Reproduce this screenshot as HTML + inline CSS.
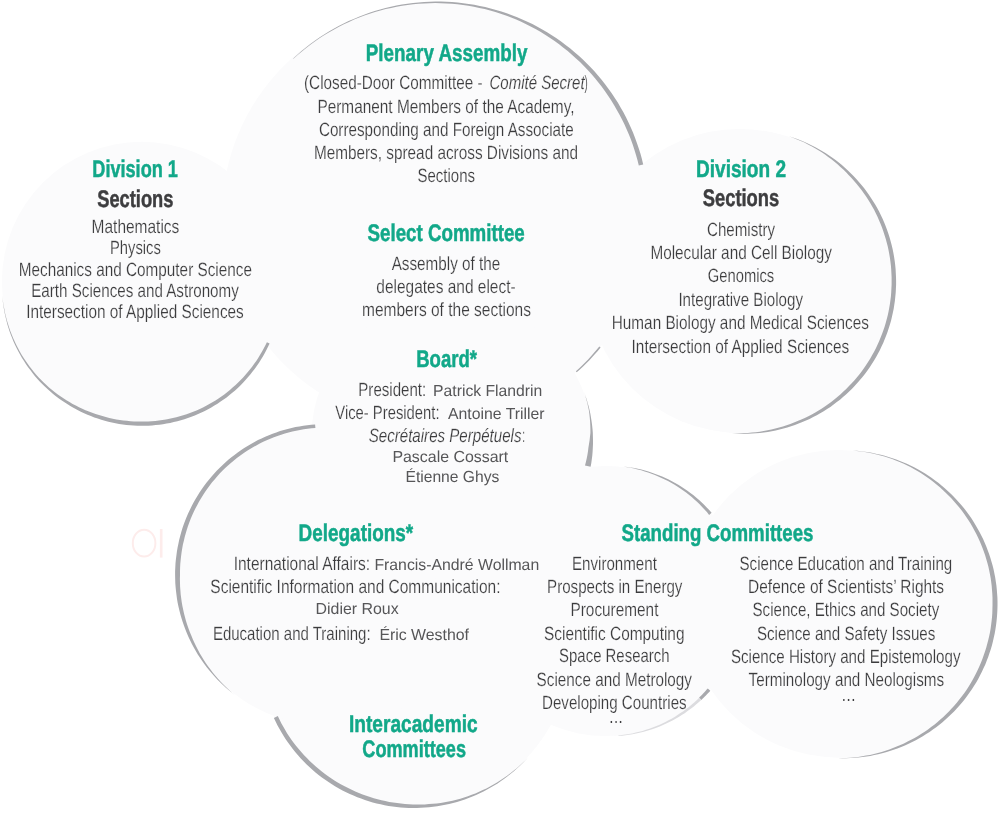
<!DOCTYPE html>
<html lang="en"><head><meta charset="utf-8"><title>Academy organisation</title>
<style>
html,body{margin:0;padding:0;background:#fff}
body{width:1000px;height:831px;overflow:hidden}
svg{display:block}
text{font-family:"Liberation Sans",sans-serif;text-rendering:geometricPrecision}
.title{font-weight:bold;fill:#12a889;stroke:#12a889;stroke-width:0.5px}
.dark{font-weight:bold;fill:#3d3d3f;stroke:#3d3d3f;stroke-width:0.5px}
.body{fill:#3c3c3e;stroke:#fcfcfc;stroke-width:0.18px}
.ital{fill:#3c3c3e;font-style:italic;stroke:#fcfcfc;stroke-width:0.18px}
.name{fill:#565658}
</style></head><body>
<svg width="1000" height="831" viewBox="0 0 1000 831">
<rect width="1000" height="831" fill="#fff"/>
<ellipse cx="144.1" cy="543.2" rx="11.3" ry="13.4" fill="none" stroke="#fdeceb" stroke-width="2"/><rect x="159.9" y="529" width="2.6" height="28.6" fill="#fdeceb"/>
<g id="div1" fill="#fbfbfc"><circle cx="142.0" cy="285.8" r="139.5"/><circle cx="141.6" cy="281.5" r="139.7"/></g>
<g id="inter" fill="#fbfbfc"><circle cx="414.0" cy="654.0" r="153.5"/><circle cx="416.6" cy="650.3" r="153.7"/></g>
<g id="deleg" fill="#fbfbfc"><circle cx="325.9" cy="574.8" r="150.3"/><circle cx="330.8" cy="575.7" r="150.5"/></g>
<g id="plen" fill="#fbfbfc"><circle cx="437.4" cy="213.1" r="211.0"/><circle cx="433.3" cy="215.0" r="211.2"/></g>
<g id="div2" fill="#fbfbfc"><circle cx="743.9" cy="281.6" r="151.7"/><circle cx="739.5" cy="280.8" r="151.9"/></g>
<g id="board" fill="#fbfbfc"><circle cx="453.5" cy="441.0" r="139.0"/><circle cx="450.5" cy="438.0" r="139.2"/></g>
<g id="standL" fill="#fbfbfc"><circle cx="609.0" cy="601.0" r="134.8"/><circle cx="605.0" cy="601.0" r="135.0"/></g>
<g id="standR" fill="#fbfbfc"><circle cx="843.5" cy="604.2" r="153.5"/><circle cx="838.5" cy="603.8" r="153.7"/></g>
<path d="M269.6 343.4 L268.0 346.7 L266.4 350.0 L264.7 353.3 L262.9 356.5 L261.0 359.6 L259.0 362.7 L256.9 365.7 L254.8 368.7 L252.6 371.6 L250.3 374.5 L247.9 377.3 L245.5 380.1 L243.0 382.7 L240.4 385.4 L237.8 387.9 L235.1 390.4 L232.3 392.8 L229.5 395.1 L226.6 397.4 L223.6 399.5 L220.6 401.6 L217.5 403.7 L214.4 405.6 L211.3 407.5 L208.1 409.2 L204.8 410.9 L201.5 412.5 L198.1 414.0 L194.8 415.5 L191.4 416.8 L187.9 418.1 L184.4 419.2 L180.9 420.3 L177.4 421.3 L173.8 422.1 L170.2 422.9 L166.6 423.6 L163.0 424.2 L159.4 424.7 L155.7 425.1 L152.1 425.4 L148.4 425.7 L144.7 425.8 L141.1 425.8 L137.4 425.7 L133.7 425.6 L130.1 425.3 L126.4 424.9 L122.8 424.5 L119.1 423.9 L115.5 423.3 L111.9 422.5 L108.4 421.7 L104.8 420.8 L101.3 419.7 L97.8 418.6 L94.3 417.4 L90.9 416.1 L87.5 414.7 L84.1 413.3 L80.8 411.7 L77.5 410.1 L74.3 408.3 L71.1 406.5 L68.0 404.6 L64.9 402.6 L61.8 400.6 L58.9 398.4 L55.9 396.2 L53.1 393.9 L50.3 391.6 L47.5 389.1 L44.8 386.6 L42.2 384.0 L39.7 381.4 L37.2 378.7 L34.8 375.9 L32.5 373.0 L30.3 370.1 L28.1 367.2 L26.0 364.2 L24.0 361.1 L22.0 358.0 L20.2 354.8 L18.4 351.6 L16.7 348.3 L15.1 345.0 L13.6 341.7 L12.2 338.3 L10.9 334.9 L9.6 331.4 L8.5 327.9 L7.4 324.4 L6.5 320.9 L5.6 317.3 L4.8 313.7 L4.1 310.1 L3.5 306.5 L3.0 302.9 L2.6 299.2 L2.3 295.6 L2.3 295.6 L2.7 299.2 L3.2 302.9 L3.8 306.5 L4.5 310.1 L5.2 313.7 L6.1 317.2 L7.0 320.7 L8.1 324.2 L9.2 327.7 L10.4 331.2 L11.7 334.6 L13.1 338.0 L14.6 341.3 L16.1 344.6 L17.8 347.8 L19.5 351.0 L21.3 354.2 L23.2 357.3 L25.2 360.3 L27.3 363.3 L29.4 366.2 L31.6 369.1 L33.9 371.9 L36.2 374.7 L38.7 377.4 L41.2 380.0 L43.7 382.5 L46.4 385.0 L49.0 387.4 L51.8 389.8 L54.6 392.0 L57.5 394.2 L60.4 396.3 L63.4 398.3 L66.4 400.3 L69.5 402.1 L72.6 403.9 L75.8 405.6 L79.0 407.2 L82.3 408.7 L85.5 410.2 L88.9 411.5 L92.2 412.8 L95.6 413.9 L99.0 415.1 L102.4 416.1 L105.8 417.1 L109.3 417.9 L112.8 418.7 L116.3 419.4 L119.8 420.0 L123.3 420.4 L126.9 420.8 L130.4 421.2 L134.0 421.4 L137.5 421.5 L141.1 421.5 L144.6 421.5 L148.2 421.4 L151.7 421.2 L155.3 420.9 L158.8 420.5 L162.4 420.1 L165.9 419.5 L169.4 418.8 L172.9 418.1 L176.3 417.2 L179.8 416.3 L183.2 415.3 L186.6 414.2 L189.9 413.0 L193.2 411.7 L196.5 410.4 L199.8 408.9 L203.0 407.4 L206.2 405.8 L209.3 404.1 L212.4 402.3 L215.5 400.4 L218.5 398.5 L221.4 396.5 L224.3 394.4 L227.1 392.2 L229.9 390.0 L232.6 387.6 L235.3 385.3 L237.9 382.8 L240.4 380.3 L242.9 377.7 L245.3 375.0 L247.6 372.3 L249.9 369.6 L252.1 366.7 L254.2 363.8 L256.3 360.9 L258.2 357.9 L260.1 354.8 L261.9 351.7 L263.7 348.6 L265.3 345.4 L266.9 342.2Z" fill="#a8a9ad"/>
<path d="M293.2 58.4 L297.3 54.7 L301.5 51.0 L305.9 47.5 L310.3 44.1 L314.8 40.8 L319.4 37.6 L324.1 34.5 L328.9 31.6 L333.7 28.8 L338.6 26.1 L343.6 23.5 L348.6 21.1 L353.7 18.9 L358.9 16.7 L364.1 14.7 L369.4 12.8 L374.7 11.1 L380.1 9.5 L385.5 8.1 L390.9 6.8 L396.4 5.6 L401.9 4.6 L407.4 3.7 L413.0 3.0 L418.5 2.4 L424.1 2.0 L429.7 1.7 L435.3 1.6 L440.9 1.6 L446.5 1.8 L452.0 2.1 L457.6 2.6 L463.2 3.2 L468.7 3.9 L474.2 4.8 L479.7 5.9 L485.2 7.1 L490.6 8.4 L496.0 9.9 L501.4 11.5 L506.7 13.3 L511.9 15.2 L517.2 17.2 L522.3 19.4 L527.4 21.7 L532.4 24.1 L537.4 26.7 L542.3 29.4 L547.1 32.3 L551.8 35.2 L556.5 38.3 L561.1 41.5 L565.6 44.9 L570.0 48.3 L574.3 51.9 L578.5 55.6 L582.6 59.3 L586.6 63.2 L590.6 67.2 L594.4 71.3 L598.0 75.5 L601.6 79.8 L605.1 84.2 L608.4 88.7 L611.7 93.3 L614.8 97.9 L617.8 102.6 L620.6 107.5 L623.4 112.3 L626.0 117.3 L628.4 122.3 L630.8 127.4 L633.0 132.5 L635.0 137.7 L636.9 143.0 L638.7 148.3 L640.4 153.6 L641.9 159.0 L643.2 164.4 L638.8 165.5 L637.5 160.2 L636.0 154.9 L634.4 149.7 L632.7 144.5 L630.8 139.3 L628.8 134.2 L626.6 129.2 L624.4 124.2 L621.9 119.3 L619.4 114.5 L616.7 109.7 L614.0 105.0 L611.1 100.3 L608.1 95.7 L605.0 91.2 L601.8 86.8 L598.4 82.4 L595.0 78.2 L591.4 74.0 L587.7 70.0 L583.9 66.0 L580.0 62.1 L576.0 58.4 L571.9 54.7 L567.7 51.1 L563.4 47.7 L559.1 44.3 L554.6 41.1 L550.1 38.0 L545.5 35.0 L540.8 32.1 L536.0 29.3 L531.1 26.7 L526.2 24.2 L521.2 21.8 L516.2 19.6 L511.1 17.5 L505.9 15.5 L500.7 13.7 L495.4 12.0 L490.1 10.5 L484.7 9.1 L479.3 7.9 L473.9 6.7 L468.4 5.8 L463.0 5.0 L457.5 4.3 L451.9 3.8 L446.4 3.4 L440.8 3.2 L435.3 3.1 L429.7 3.2 L424.2 3.4 L418.6 3.8 L413.1 4.3 L407.6 5.0 L402.1 5.8 L396.6 6.8 L391.2 7.9 L385.7 9.1 L380.4 10.5 L375.0 12.0 L369.7 13.7 L364.4 15.5 L359.2 17.5 L354.1 19.6 L349.0 21.9 L343.9 24.3 L339.0 26.8 L334.1 29.4 L329.2 32.2 L324.5 35.1 L319.8 38.1 L315.2 41.3 L310.7 44.5 L306.2 47.9 L301.9 51.4 L297.6 55.1 L293.5 58.8Z" fill="#a8a9ad"/>
<path d="M600.6 347.6 L597.8 350.9 L595.0 354.1 L592.1 357.3 L589.2 360.4 L586.1 363.5 L583.1 366.5 L579.9 369.4 L576.7 372.2 L575.9 371.3 L579.0 368.4 L582.1 365.4 L585.1 362.4 L588.1 359.4 L591.0 356.3 L593.8 353.1 L596.6 349.8 L599.3 346.5Z" fill="#a8a9ad"/>
<path d="M785.9 135.3 L789.7 136.4 L793.5 137.7 L797.2 139.1 L801.0 140.5 L804.6 142.0 L808.3 143.7 L811.9 145.4 L815.4 147.3 L818.9 149.2 L822.4 151.2 L825.8 153.3 L829.1 155.5 L832.4 157.8 L835.6 160.1 L838.8 162.6 L841.9 165.1 L844.9 167.7 L847.9 170.4 L850.7 173.2 L853.5 176.0 L856.3 179.0 L858.9 181.9 L861.5 185.0 L864.0 188.1 L866.4 191.3 L868.7 194.6 L871.0 197.9 L873.1 201.2 L875.2 204.6 L877.2 208.1 L879.1 211.6 L880.9 215.2 L882.6 218.8 L884.2 222.5 L885.7 226.2 L887.1 229.9 L888.4 233.7 L889.6 237.5 L890.7 241.4 L891.7 245.2 L892.6 249.1 L893.4 253.0 L894.1 257.0 L894.7 260.9 L895.2 264.9 L895.6 268.9 L895.8 272.9 L896.0 276.9 L896.1 280.8 L896.1 284.8 L895.9 288.8 L895.7 292.8 L895.3 296.8 L894.9 300.8 L894.3 304.7 L893.7 308.7 L892.9 312.6 L892.0 316.5 L891.1 320.4 L890.0 324.2 L888.8 328.1 L887.6 331.8 L886.2 335.6 L884.7 339.3 L883.2 343.0 L881.5 346.6 L879.8 350.2 L877.9 353.8 L876.0 357.3 L873.9 360.7 L871.8 364.1 L869.6 367.4 L867.3 370.7 L864.9 373.9 L862.5 377.0 L859.9 380.1 L857.3 383.1 L854.6 386.1 L851.8 388.9 L848.9 391.7 L846.0 394.5 L843.0 397.1 L840.0 399.7 L836.8 402.1 L833.6 404.5 L830.4 406.9 L827.1 409.1 L823.7 411.2 L820.2 413.3 L816.8 415.2 L813.2 417.1 L809.6 418.9 L806.0 420.5 L802.4 422.1 L798.6 423.6 L794.9 425.0 L791.1 426.3 L787.3 427.5 L783.5 428.6 L779.6 429.6 L775.7 430.4 L771.8 431.2 L767.8 431.9 L763.9 432.5 L759.9 433.0 L755.9 433.3 L751.9 433.6 L747.9 433.7 L743.9 433.8 L740.0 433.7 L736.0 433.6 L732.0 433.3 L728.0 433.0 L728.0 433.0 L732.0 433.2 L736.0 433.3 L740.0 433.3 L743.9 433.1 L747.9 432.9 L751.9 432.6 L755.8 432.2 L759.8 431.7 L763.7 431.0 L767.6 430.3 L771.4 429.5 L775.3 428.6 L779.1 427.6 L782.9 426.4 L786.6 425.2 L790.3 423.9 L794.0 422.5 L797.6 421.0 L801.3 419.5 L804.8 417.9 L808.4 416.2 L811.8 414.4 L815.3 412.5 L818.6 410.5 L821.9 408.4 L825.2 406.2 L828.4 404.0 L831.5 401.7 L834.6 399.3 L837.6 396.8 L840.6 394.2 L843.4 391.6 L846.2 388.9 L849.0 386.1 L851.7 383.3 L854.3 380.4 L856.8 377.5 L859.3 374.4 L861.6 371.4 L863.9 368.2 L866.1 365.0 L868.2 361.8 L870.3 358.5 L872.2 355.1 L874.1 351.7 L875.9 348.2 L877.5 344.7 L879.1 341.2 L880.6 337.6 L882.0 334.0 L883.3 330.4 L884.6 326.7 L885.7 323.0 L886.7 319.2 L887.7 315.5 L888.5 311.7 L889.2 307.9 L889.9 304.1 L890.4 300.2 L890.9 296.4 L891.2 292.5 L891.4 288.6 L891.6 284.7 L891.6 280.9 L891.6 277.0 L891.4 273.1 L891.2 269.2 L890.9 265.4 L890.4 261.5 L889.9 257.7 L889.2 253.8 L888.5 250.0 L887.7 246.2 L886.7 242.5 L885.7 238.7 L884.5 235.0 L883.3 231.3 L882.0 227.6 L880.6 224.0 L879.1 220.4 L877.5 216.8 L875.8 213.3 L874.1 209.8 L872.2 206.4 L870.2 203.0 L868.2 199.7 L866.1 196.4 L863.8 193.2 L861.5 190.0 L859.1 186.9 L856.7 183.9 L854.1 180.9 L851.5 178.0 L848.8 175.2 L846.1 172.3 L843.3 169.6 L840.4 166.9 L837.5 164.2 L834.5 161.7 L831.4 159.2 L828.2 156.9 L825.0 154.5 L821.7 152.3 L818.4 150.2 L815.0 148.2 L811.5 146.2 L808.0 144.4 L804.4 142.6 L800.8 141.0 L797.1 139.4 L793.4 137.9 L789.6 136.6 L785.9 135.3Z" fill="#a8a9ad"/>
<path d="M584.2 392.1 L585.4 395.7 L586.6 399.3 L587.7 402.9 L588.7 406.6 L589.6 410.3 L590.4 414.0 L591.0 417.7 L591.6 421.4 L592.1 425.2 L592.5 429.0 L592.8 432.7 L592.9 436.5 L593.0 440.3 L593.0 444.1 L592.8 447.9 L592.6 451.7 L592.3 455.4 L591.8 459.2 L591.3 462.9 L590.6 466.7 L585.0 465.6 L585.9 462.1 L586.7 458.5 L587.4 454.9 L588.0 451.3 L588.4 447.7 L589.0 444.0 L589.6 440.3 L590.0 436.6 L590.4 432.9 L590.4 429.1 L590.3 425.4 L590.1 421.7 L589.8 417.9 L589.4 414.2 L588.9 410.4 L588.1 406.7 L587.3 403.1 L586.3 399.4 L585.3 395.8 L584.2 392.1Z" fill="#a8a9ad"/>
<path d="M235.1 695.2 L232.0 692.8 L228.9 690.3 L225.9 687.7 L223.0 685.0 L220.1 682.3 L217.3 679.4 L214.6 676.5 L212.0 673.6 L209.4 670.5 L206.9 667.4 L204.5 664.3 L202.2 661.0 L200.0 657.8 L197.8 654.4 L195.8 651.0 L193.8 647.5 L191.9 644.0 L190.2 640.5 L188.5 636.9 L186.9 633.2 L185.4 629.6 L184.0 625.8 L182.7 622.1 L181.5 618.3 L180.4 614.5 L179.4 610.6 L178.5 606.8 L177.7 602.9 L177.0 599.0 L176.5 595.0 L176.0 591.1 L175.6 587.1 L175.3 583.2 L175.2 579.2 L175.1 575.2 L175.1 571.2 L175.3 567.3 L175.5 563.3 L175.9 559.3 L176.4 555.4 L176.9 551.5 L177.6 547.5 L178.4 543.7 L179.2 539.8 L180.2 535.9 L181.3 532.1 L182.4 528.3 L183.7 524.5 L185.1 520.8 L186.6 517.1 L188.1 513.5 L189.8 509.9 L191.6 506.3 L193.4 502.8 L195.4 499.3 L197.4 495.9 L199.5 492.5 L201.7 489.2 L204.0 486.0 L206.4 482.8 L208.9 479.7 L211.4 476.7 L214.0 473.7 L216.7 470.8 L219.5 467.9 L222.4 465.2 L225.3 462.5 L228.3 459.8 L231.4 457.3 L234.5 454.9 L237.7 452.5 L240.9 450.2 L244.2 448.0 L247.6 445.9 L251.0 443.9 L254.5 442.0 L258.0 440.1 L261.6 438.4 L265.2 436.7 L268.9 435.2 L272.6 433.7 L276.3 432.4 L280.1 431.1 L283.9 430.0 L287.7 428.9 L291.6 428.0 L295.5 427.1 L299.4 426.4 L303.3 425.7 L307.2 425.2 L311.2 424.7 L315.1 424.4 L315.4 427.9 L311.5 428.2 L307.6 428.7 L303.8 429.2 L300.0 429.9 L296.2 430.7 L292.4 431.5 L288.6 432.5 L284.9 433.5 L281.2 434.7 L277.5 435.9 L273.9 437.2 L270.3 438.7 L266.7 440.2 L263.2 441.8 L259.8 443.5 L256.3 445.4 L253.0 447.3 L249.6 449.2 L246.4 451.3 L243.1 453.5 L240.0 455.7 L236.9 458.0 L233.9 460.4 L230.9 462.9 L228.0 465.5 L225.2 468.1 L222.4 470.8 L219.7 473.6 L217.1 476.4 L214.6 479.4 L212.1 482.3 L209.7 485.4 L207.5 488.5 L205.2 491.7 L203.1 494.9 L201.1 498.2 L199.1 501.5 L197.3 504.9 L195.5 508.3 L193.8 511.8 L192.2 515.3 L190.7 518.8 L189.3 522.4 L188.0 526.1 L186.8 529.7 L185.7 533.4 L184.7 537.1 L183.8 540.9 L182.9 544.6 L182.2 548.4 L181.6 552.2 L181.1 556.0 L180.7 559.8 L180.3 563.7 L180.1 567.5 L180.0 571.4 L180.0 575.2 L179.9 579.0 L180.0 582.9 L180.1 586.8 L180.4 590.6 L180.7 594.4 L181.2 598.3 L181.7 602.1 L182.4 605.9 L183.2 609.7 L184.0 613.5 L185.0 617.3 L186.0 621.0 L187.2 624.7 L188.5 628.4 L189.8 632.0 L191.3 635.6 L192.8 639.2 L194.4 642.8 L196.1 646.3 L197.9 649.8 L199.7 653.2 L201.7 656.6 L203.8 659.9 L205.9 663.2 L208.2 666.4 L210.5 669.6 L212.9 672.7 L215.4 675.8 L218.0 678.8 L220.7 681.7 L223.4 684.5 L226.2 687.3 L229.1 690.0 L232.1 692.7 L235.1 695.2Z" fill="#a8a9ad"/>
<path d="M528.4 757.0 L525.7 760.0 L522.8 762.9 L519.9 765.8 L516.9 768.5 L513.9 771.2 L510.7 773.8 L507.6 776.3 L504.3 778.8 L501.0 781.1 L497.6 783.4 L494.1 785.5 L490.6 787.6 L487.1 789.6 L483.5 791.4 L479.8 793.2 L476.1 794.9 L472.4 796.5 L468.6 798.0 L464.8 799.4 L460.9 800.7 L457.0 801.9 L453.1 803.0 L449.1 803.9 L445.2 804.8 L441.2 805.6 L437.2 806.2 L433.1 806.8 L429.1 807.3 L425.0 807.6 L421.0 807.8 L416.9 808.0 L412.9 808.0 L408.8 807.9 L404.7 807.7 L400.7 807.4 L396.6 807.0 L392.6 806.5 L388.6 805.9 L384.6 805.2 L380.6 804.3 L376.6 803.4 L372.7 802.4 L368.8 801.2 L364.9 800.0 L361.1 798.6 L357.3 797.2 L353.5 795.6 L349.8 794.0 L346.1 792.2 L342.5 790.4 L338.9 788.5 L335.4 786.4 L331.9 784.3 L328.5 782.1 L325.2 779.8 L321.9 777.4 L318.6 774.9 L315.5 772.4 L312.4 769.7 L309.4 767.0 L306.4 764.2 L303.5 761.3 L300.8 758.4 L298.0 755.3 L295.4 752.2 L292.8 749.1 L290.4 745.8 L288.0 742.5 L285.7 739.2 L283.5 735.8 L281.4 732.3 L279.4 728.8 L277.4 725.2 L275.6 721.5 L273.9 717.9 L277.8 716.1 L279.5 719.6 L281.3 723.2 L283.2 726.6 L285.2 730.1 L287.2 733.4 L289.4 736.7 L291.6 740.0 L294.0 743.2 L296.4 746.3 L298.9 749.3 L301.5 752.3 L304.1 755.3 L306.9 758.1 L309.7 760.9 L312.5 763.6 L315.5 766.2 L318.5 768.8 L321.5 771.2 L324.7 773.7 L327.8 776.0 L331.1 778.2 L334.4 780.4 L337.7 782.5 L341.2 784.4 L344.6 786.3 L348.1 788.1 L351.7 789.8 L355.3 791.5 L358.9 793.0 L362.6 794.4 L366.3 795.8 L370.1 797.0 L373.8 798.2 L377.6 799.3 L381.5 800.3 L385.3 801.1 L389.2 801.9 L393.1 802.6 L397.1 803.1 L401.0 803.6 L404.9 804.0 L408.9 804.2 L412.9 804.4 L416.9 804.5 L420.8 804.5 L424.8 804.4 L428.8 804.1 L432.8 803.8 L436.7 803.4 L440.7 802.9 L444.6 802.2 L448.6 801.5 L452.5 800.7 L456.4 799.7 L460.3 798.7 L464.1 797.5 L467.9 796.2 L471.7 794.8 L475.4 793.4 L479.1 791.8 L482.8 790.1 L486.4 788.4 L490.0 786.5 L493.5 784.5 L497.0 782.5 L500.4 780.3 L503.8 778.1 L507.1 775.7 L510.4 773.3 L513.5 770.8 L516.7 768.2 L519.7 765.6 L522.7 762.8 L525.6 760.0 L528.4 757.0Z" fill="#a8a9ad"/>
<path d="M619.9 466.1 L623.5 466.5 L627.1 466.9 L630.7 467.4 L634.3 468.1 L637.8 468.8 L641.4 469.6 L644.9 470.6 L648.4 471.6 L651.9 472.7 L655.3 473.9 L658.7 475.2 L662.1 476.5 L665.4 478.0 L668.7 479.6 L671.9 481.2 L675.1 483.0 L678.3 484.8 L681.4 486.7 L684.4 488.7 L687.4 490.8 L690.4 492.9 L693.2 495.1 L696.1 497.4 L698.8 499.8 L701.5 502.3 L704.1 504.8 L706.7 507.4 L709.2 510.0 L711.6 512.8 L709.1 514.9 L706.9 512.1 L704.5 509.5 L702.1 506.9 L699.6 504.3 L697.0 501.8 L694.4 499.4 L691.7 497.1 L688.9 494.8 L686.1 492.6 L683.2 490.5 L680.3 488.5 L677.3 486.5 L674.2 484.6 L671.1 482.8 L668.0 481.1 L664.8 479.4 L661.5 477.9 L658.2 476.4 L654.9 475.0 L651.5 473.7 L648.1 472.5 L644.7 471.4 L641.2 470.3 L637.7 469.4 L634.2 468.6 L630.6 467.8 L627.1 467.2 L623.5 466.6 L619.9 466.1Z" fill="#a8a9ad"/>
<path d="M710.3 690.7 L709.3 691.9 L708.2 693.1 L707.0 694.2 L705.9 695.4 L704.8 696.6 L703.6 697.7 L702.5 698.8 L701.3 700.0 L699.1 697.6 L700.2 696.5 L701.3 695.4 L702.5 694.3 L703.6 693.1 L704.6 691.9 L705.7 690.8 L706.7 689.6 L707.8 688.4Z" fill="#a8a9ad"/>
<path d="M701.3 700.0 L698.7 702.3 L696.0 704.6 L693.2 706.9 L690.4 709.1 L687.6 711.1 L684.7 713.2 L681.7 715.1 L678.7 717.0 L675.6 718.8 L672.5 720.5 L669.4 722.1 L666.2 723.6 L663.0 725.1 L659.7 726.4 L656.4 727.7 L653.0 728.9 L649.7 730.0 L646.3 731.1 L642.9 732.0 L639.4 732.8 L636.0 733.6 L632.5 734.2 L629.0 734.8 L625.5 735.3 L622.0 735.7 L618.4 736.0 L618.4 735.5 L621.9 735.1 L625.4 734.6 L628.9 734.0 L632.3 733.4 L635.8 732.6 L639.2 731.8 L642.6 730.9 L645.9 729.8 L649.3 728.7 L652.6 727.5 L655.8 726.3 L659.1 724.9 L662.3 723.5 L665.4 722.0 L668.5 720.3 L671.6 718.7 L674.6 716.9 L677.5 715.1 L680.4 713.1 L683.3 711.2 L686.1 709.1 L688.9 707.0 L691.5 704.8 L694.2 702.5 L696.7 700.2 L699.2 697.8Z" fill="#dcdcdf"/>
<path d="M848.9 450.3 L852.9 450.5 L856.9 450.8 L860.9 451.2 L864.9 451.7 L868.9 452.3 L872.9 453.0 L876.8 453.9 L880.8 454.8 L884.7 455.8 L888.5 456.9 L892.4 458.2 L896.2 459.5 L899.9 460.9 L903.7 462.4 L907.4 464.1 L911.0 465.8 L914.6 467.6 L918.2 469.5 L921.7 471.5 L925.1 473.6 L928.5 475.8 L931.8 478.1 L935.1 480.4 L938.3 482.8 L941.5 485.4 L944.5 488.0 L947.5 490.7 L950.5 493.4 L953.3 496.3 L956.1 499.2 L958.8 502.2 L961.5 505.2 L964.0 508.3 L966.5 511.5 L968.9 514.8 L971.2 518.1 L973.4 521.5 L975.5 524.9 L977.5 528.4 L979.5 531.9 L981.3 535.5 L983.1 539.1 L984.7 542.8 L986.3 546.5 L987.7 550.3 L989.1 554.1 L990.4 557.9 L991.5 561.8 L992.6 565.6 L993.6 569.6 L994.4 573.5 L995.2 577.5 L995.8 581.4 L996.4 585.4 L996.8 589.4 L997.1 593.5 L997.4 597.5 L997.5 601.5 L997.5 605.5 L997.4 609.6 L997.2 613.6 L996.9 617.6 L996.5 621.6 L996.0 625.6 L995.4 629.6 L994.7 633.6 L993.8 637.5 L992.9 641.5 L991.9 645.4 L990.8 649.2 L989.5 653.1 L988.2 656.9 L986.8 660.6 L985.3 664.4 L983.6 668.1 L981.9 671.7 L980.1 675.3 L978.2 678.9 L976.2 682.4 L974.1 685.8 L971.9 689.2 L969.6 692.5 L967.3 695.8 L964.9 699.0 L962.3 702.2 L959.7 705.2 L957.0 708.2 L954.3 711.2 L951.4 714.0 L948.5 716.8 L945.5 719.5 L942.5 722.2 L939.4 724.7 L936.2 727.2 L932.9 729.6 L929.6 731.9 L926.2 734.1 L922.8 736.2 L919.3 738.2 L915.8 740.2 L912.2 742.0 L908.6 743.8 L904.9 745.4 L901.2 747.0 L897.4 748.4 L893.6 749.8 L889.8 751.1 L885.9 752.2 L882.1 753.3 L878.1 754.3 L874.2 755.1 L870.2 755.9 L866.3 756.5 L862.3 757.1 L858.3 757.5 L854.2 757.8 L850.2 758.1 L846.2 758.2 L842.2 758.2 L838.1 758.1 L838.1 758.1 L842.2 758.1 L846.2 757.9 L850.2 757.7 L854.2 757.3 L858.2 756.9 L862.2 756.3 L866.1 755.6 L870.1 754.9 L874.0 754.0 L877.9 753.0 L881.7 751.9 L885.5 750.7 L889.3 749.5 L893.0 748.1 L896.7 746.6 L900.4 745.0 L904.0 743.4 L907.6 741.6 L911.1 739.8 L914.6 737.9 L918.0 735.9 L921.4 733.8 L924.7 731.7 L928.0 729.4 L931.1 727.1 L934.3 724.7 L937.3 722.2 L940.3 719.6 L943.3 717.0 L946.1 714.2 L948.9 711.4 L951.6 708.6 L954.2 705.7 L956.8 702.7 L959.3 699.6 L961.7 696.5 L964.0 693.4 L966.3 690.2 L968.4 686.9 L970.5 683.5 L972.4 680.2 L974.3 676.7 L976.1 673.2 L977.8 669.7 L979.4 666.2 L981.0 662.5 L982.4 658.9 L983.7 655.2 L985.0 651.5 L986.2 647.8 L987.2 644.1 L988.2 640.3 L989.1 636.5 L989.9 632.7 L990.6 628.8 L991.1 624.9 L991.6 621.1 L992.0 617.2 L992.3 613.3 L992.4 609.4 L992.5 605.5 L992.5 601.6 L992.5 597.7 L992.3 593.8 L992.0 589.9 L991.7 586.0 L991.2 582.1 L990.7 578.3 L990.0 574.4 L989.2 570.6 L988.4 566.7 L987.4 562.9 L986.3 559.2 L985.2 555.4 L983.9 551.7 L982.5 548.0 L981.1 544.4 L979.5 540.8 L977.9 537.2 L976.2 533.7 L974.3 530.2 L972.4 526.7 L970.4 523.3 L968.3 520.0 L966.1 516.7 L963.9 513.5 L961.5 510.3 L959.1 507.2 L956.5 504.2 L953.9 501.2 L951.3 498.3 L948.5 495.5 L945.7 492.7 L942.8 490.0 L939.9 487.3 L936.8 484.7 L933.8 482.2 L930.6 479.8 L927.4 477.5 L924.1 475.2 L920.8 473.0 L917.4 471.0 L913.9 469.0 L910.4 467.1 L906.8 465.2 L903.2 463.5 L899.6 461.9 L895.8 460.4 L892.1 459.0 L888.3 457.7 L884.5 456.5 L880.6 455.4 L876.7 454.4 L872.8 453.5 L868.9 452.7 L864.9 452.0 L860.9 451.4 L856.9 450.9 L852.9 450.6 L848.9 450.3Z" fill="#a8a9ad"/>
<g style="will-change:transform">
<text class="title" x="92.3" y="177.3" font-size="24.0" textLength="85.6" lengthAdjust="spacingAndGlyphs">Division 1</text>
<text class="dark" x="97.2" y="206.8" font-size="24.0" textLength="76.2" lengthAdjust="spacingAndGlyphs">Sections</text>
<text class="body" x="91.6" y="233.2" font-size="19.2" textLength="87.7" lengthAdjust="spacingAndGlyphs">Mathematics</text>
<text class="body" x="110.0" y="254.3" font-size="19.2" textLength="50.8" lengthAdjust="spacingAndGlyphs">Physics</text>
<text class="body" x="18.7" y="276.0" font-size="19.2" textLength="233.3" lengthAdjust="spacingAndGlyphs">Mechanics and Computer Science</text>
<text class="body" x="31.2" y="297.0" font-size="19.2" textLength="207.6" lengthAdjust="spacingAndGlyphs">Earth Sciences and Astronomy</text>
<text class="body" x="26.2" y="318.0" font-size="19.2" textLength="217.6" lengthAdjust="spacingAndGlyphs">Intersection of Applied Sciences</text>
<text class="title" x="365.8" y="60.9" font-size="24.0" textLength="161.7" lengthAdjust="spacingAndGlyphs">Plenary Assembly</text>
<text class="body" x="304.0" y="89.0" font-size="19.2" textLength="178.5" lengthAdjust="spacingAndGlyphs">(Closed-Door Committee -</text>
<text class="ital" x="489.5" y="89.0" font-size="19.2" textLength="95.1" lengthAdjust="spacingAndGlyphs">Comité Secret</text>
<text class="body" x="584.6" y="89.0" font-size="19.2" textLength="3.2" lengthAdjust="spacingAndGlyphs">)</text>
<text class="body" x="317.4" y="113.0" font-size="19.2" textLength="257.1" lengthAdjust="spacingAndGlyphs">Permanent Members of the Academy,</text>
<text class="body" x="318.9" y="136.0" font-size="19.2" textLength="254.8" lengthAdjust="spacingAndGlyphs">Corresponding and Foreign Associate</text>
<text class="body" x="313.9" y="159.0" font-size="19.2" textLength="264.1" lengthAdjust="spacingAndGlyphs">Members, spread across Divisions and</text>
<text class="body" x="417.4" y="182.0" font-size="19.2" textLength="57.6" lengthAdjust="spacingAndGlyphs">Sections</text>
<text class="title" x="367.5" y="241.3" font-size="24.0" textLength="157.3" lengthAdjust="spacingAndGlyphs">Select Committee</text>
<text class="body" x="391.7" y="269.7" font-size="19.2" textLength="108.5" lengthAdjust="spacingAndGlyphs">Assembly of the</text>
<text class="body" x="376.3" y="292.7" font-size="19.2" textLength="139.3" lengthAdjust="spacingAndGlyphs">delegates and elect-</text>
<text class="body" x="362.0" y="315.6" font-size="19.2" textLength="169.0" lengthAdjust="spacingAndGlyphs">members of the sections</text>
<text class="title" x="696.0" y="177.0" font-size="24.0" textLength="90.0" lengthAdjust="spacingAndGlyphs">Division 2</text>
<text class="dark" x="702.8" y="206.4" font-size="24.0" textLength="76.4" lengthAdjust="spacingAndGlyphs">Sections</text>
<text class="body" x="707.0" y="236.0" font-size="19.2" textLength="68.0" lengthAdjust="spacingAndGlyphs">Chemistry</text>
<text class="body" x="650.4" y="259.0" font-size="19.2" textLength="181.5" lengthAdjust="spacingAndGlyphs">Molecular and Cell Biology</text>
<text class="body" x="707.8" y="282.0" font-size="19.2" textLength="66.4" lengthAdjust="spacingAndGlyphs">Genomics</text>
<text class="body" x="678.4" y="306.0" font-size="19.2" textLength="124.6" lengthAdjust="spacingAndGlyphs">Integrative Biology</text>
<text class="body" x="611.8" y="329.0" font-size="19.2" textLength="257.0" lengthAdjust="spacingAndGlyphs">Human Biology and Medical Sciences</text>
<text class="body" x="631.6" y="353.0" font-size="19.2" textLength="217.6" lengthAdjust="spacingAndGlyphs">Intersection of Applied Sciences</text>
<text class="title" x="416.2" y="367.3" font-size="24.0" textLength="60.8" lengthAdjust="spacingAndGlyphs">Board*</text>
<text class="body" x="358.3" y="396.0" font-size="19.2" textLength="67.9" lengthAdjust="spacingAndGlyphs">President:</text>
<text class="name" x="433.1" y="396.0" font-size="16.0" textLength="109.2" lengthAdjust="spacingAndGlyphs">Patrick Flandrin</text>
<text class="body" x="335.3" y="419.0" font-size="19.2" textLength="104.2" lengthAdjust="spacingAndGlyphs">Vice- President:</text>
<text class="name" x="448.0" y="419.0" font-size="16.0" textLength="96.6" lengthAdjust="spacingAndGlyphs">Antoine Triller</text>
<text class="ital" x="368.7" y="441.8" font-size="19.2" textLength="152.8" lengthAdjust="spacingAndGlyphs">Secrétaires Perpétuels</text>
<text class="body" x="522.3" y="441.8" font-size="19.2" textLength="2.8" lengthAdjust="spacingAndGlyphs">:</text>
<text class="name" x="392.4" y="462.0" font-size="16.0" textLength="115.9" lengthAdjust="spacingAndGlyphs">Pascale Cossart</text>
<text class="name" x="405.5" y="481.6" font-size="16.0" textLength="93.8" lengthAdjust="spacingAndGlyphs">Étienne Ghys</text>
<text class="title" x="298.6" y="541.0" font-size="24.0" textLength="114.6" lengthAdjust="spacingAndGlyphs">Delegations*</text>
<text class="body" x="233.7" y="570.0" font-size="19.2" textLength="136.4" lengthAdjust="spacingAndGlyphs">International Affairs:</text>
<text class="name" x="374.4" y="570.4" font-size="16.0" textLength="164.8" lengthAdjust="spacingAndGlyphs">Francis-André Wollman</text>
<text class="body" x="210.3" y="593.3" font-size="19.2" textLength="290.2" lengthAdjust="spacingAndGlyphs">Scientific Information and Communication:</text>
<text class="name" x="315.5" y="614.0" font-size="16.0" textLength="83.2" lengthAdjust="spacingAndGlyphs">Didier Roux</text>
<text class="body" x="212.9" y="640.0" font-size="19.2" textLength="157.7" lengthAdjust="spacingAndGlyphs">Education and Training:</text>
<text class="name" x="379.4" y="640.3" font-size="16.0" textLength="89.6" lengthAdjust="spacingAndGlyphs">Éric Westhof</text>
<text class="title" x="349.0" y="732.3" font-size="24.0" textLength="128.6" lengthAdjust="spacingAndGlyphs">Interacademic</text>
<text class="title" x="362.3" y="757.0" font-size="24.0" textLength="103.7" lengthAdjust="spacingAndGlyphs">Committees</text>
<text class="title" x="621.5" y="540.9" font-size="24.0" textLength="192.0" lengthAdjust="spacingAndGlyphs">Standing Committees</text>
<text class="body" x="572.0" y="570.0" font-size="19.2" textLength="84.9" lengthAdjust="spacingAndGlyphs">Environment</text>
<text class="body" x="547.1" y="593.0" font-size="19.2" textLength="135.3" lengthAdjust="spacingAndGlyphs">Prospects in Energy</text>
<text class="body" x="570.5" y="616.0" font-size="19.2" textLength="87.9" lengthAdjust="spacingAndGlyphs">Procurement</text>
<text class="body" x="544.1" y="640.0" font-size="19.2" textLength="140.4" lengthAdjust="spacingAndGlyphs">Scientific Computing</text>
<text class="body" x="559.1" y="662.0" font-size="19.2" textLength="110.4" lengthAdjust="spacingAndGlyphs">Space Research</text>
<text class="body" x="536.6" y="686.0" font-size="19.2" textLength="155.4" lengthAdjust="spacingAndGlyphs">Science and Metrology</text>
<text class="body" x="542.0" y="709.0" font-size="19.2" textLength="144.6" lengthAdjust="spacingAndGlyphs">Developing Countries</text>
<text class="body" x="609.0" y="723.4" font-size="19.2" textLength="14.0" lengthAdjust="spacingAndGlyphs">...</text>
<text class="body" x="739.5" y="569.7" font-size="19.2" textLength="212.7" lengthAdjust="spacingAndGlyphs">Science Education and Training</text>
<text class="body" x="748.1" y="593.0" font-size="19.2" textLength="196.0" lengthAdjust="spacingAndGlyphs">Defence of Scientists’ Rights</text>
<text class="body" x="752.5" y="616.1" font-size="19.2" textLength="186.7" lengthAdjust="spacingAndGlyphs">Science, Ethics and Society</text>
<text class="body" x="756.9" y="640.0" font-size="19.2" textLength="178.4" lengthAdjust="spacingAndGlyphs">Science and Safety Issues</text>
<text class="body" x="730.9" y="663.0" font-size="19.2" textLength="229.6" lengthAdjust="spacingAndGlyphs">Science History and Epistemology</text>
<text class="body" x="748.6" y="686.0" font-size="19.2" textLength="195.5" lengthAdjust="spacingAndGlyphs">Terminology and Neologisms</text>
<text class="body" x="841.6" y="701.0" font-size="19.2" textLength="14.0" lengthAdjust="spacingAndGlyphs">...</text>
</g>
</svg>
</body></html>
